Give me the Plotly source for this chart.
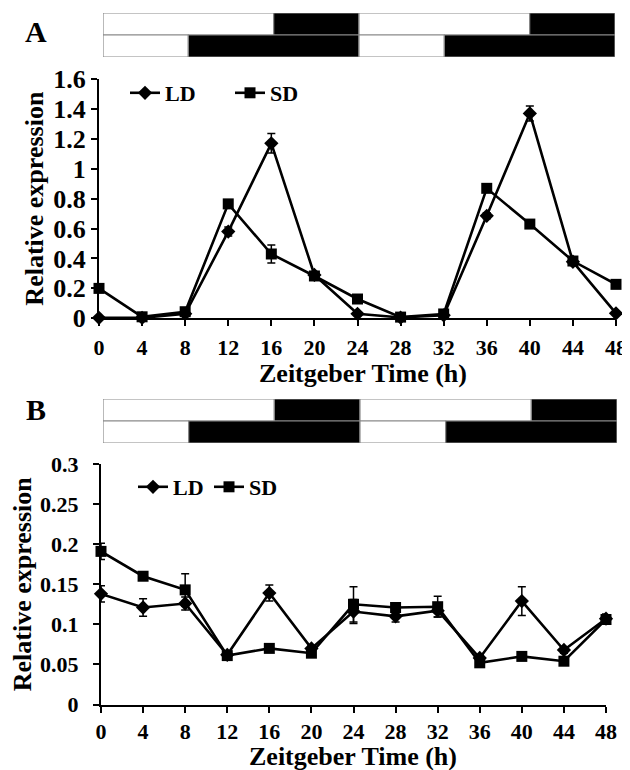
import plotly.graph_objects as go

# ---------------- data ----------------
zt = [0, 4, 8, 12, 16, 20, 24, 28, 32, 36, 40, 44, 48]
x_ticks = [0, 4, 8, 12, 16, 20, 24, 28, 32, 36, 40, 44, 48]

# Panel A
a_ld = [0.003, 0.003, 0.03, 0.58, 1.17, 0.29, 0.03, 0.005, 0.02, 0.685, 1.37, 0.378, 0.033]
a_ld_err = [0.005, 0.003, 0.01, 0.03, 0.065, 0.01, 0.005, 0.003, 0.005, 0.02, 0.05, 0.02, 0.005]
a_sd = [0.2, 0.01, 0.044, 0.765, 0.43, 0.283, 0.129, 0.008, 0.029, 0.869, 0.63, 0.383, 0.227]
a_sd_err = [0.02, 0.005, 0.01, 0.02, 0.06, 0.01, 0.01, 0.005, 0.005, 0.02, 0.02, 0.02, 0.01]
a_y_ticks = [0, 0.2, 0.4, 0.6, 0.8, 1.0, 1.2, 1.4, 1.6]
a_y_labels = ["0", "0.2", "0.4", "0.6", "0.8", "1", "1.2", "1.4", "1.6"]

# Panel B
b_ld = [0.138, 0.121, 0.126, 0.062, 0.139, 0.07, 0.116, 0.11, 0.117, 0.058, 0.129, 0.068, 0.107]
b_ld_err = [0.01, 0.011, 0.008, 0.003, 0.01, 0.003, 0.015, 0.007, 0.008, 0.004, 0.018, 0.004, 0.006]
b_sd = [0.191, 0.16, 0.143, 0.061, 0.07, 0.064, 0.125, 0.121, 0.122, 0.052, 0.06, 0.054, 0.106]
b_sd_err = [0.01, 0.004, 0.02, 0.003, 0.004, 0.003, 0.022, 0.005, 0.013, 0.003, 0.003, 0.003, 0.004]
b_y_ticks = [0, 0.05, 0.1, 0.15, 0.2, 0.25, 0.3]
b_y_labels = ["0", "0.05", "0.1", "0.15", "0.2", "0.25", "0.3"]

# Photoperiods (hours of light per 24 h day)
ld_light = 16
sd_light = 8
days = [0, 24]

# page body has an 8px margin: figure is sized so it fits the 630x770 window
OFF = 8
W, H = 630 - OFF, 770 - OFF
FONT = "Liberation Serif, Times New Roman, serif"


def px(x):
    return (x - OFF) / W


def py(y):
    return 1 - (y - OFF) / H


fig = go.Figure()

# -------- light/dark regime bars --------
def add_regime(xa, ya):
    for row, light in [(1, ld_light), (0, sd_light)]:
        for d in days:
            for start, length, col in [(d, light, "white"), (d + light, 24 - light, "black")]:
                fig.add_trace(go.Bar(
                    orientation="h", y=[row], x=[length], base=[start], width=1,
                    marker=dict(color=col, line=dict(color="#8a8a8a", width=1.2)),
                    xaxis=xa, yaxis=ya, showlegend=False, hoverinfo="skip"))


add_regime("x3", "y3")
add_regime("x4", "y4")

# -------- expression series --------
def add_series(xa, ya, ld, ld_err, sd, sd_err, legend):
    fig.add_trace(go.Scatter(
        x=zt, y=ld, name="LD", mode="lines+markers", xaxis=xa, yaxis=ya,
        line=dict(color="black", width=2.6),
        marker=dict(symbol="diamond", size=11, color="black"),
        error_y=dict(type="data", array=ld_err, color="black", thickness=1.5, width=4),
        legend=legend, cliponaxis=False))
    fig.add_trace(go.Scatter(
        x=zt, y=sd, name="SD", mode="lines+markers", xaxis=xa, yaxis=ya,
        line=dict(color="black", width=2.6),
        marker=dict(symbol="square", size=11, color="black"),
        error_y=dict(type="data", array=sd_err, color="black", thickness=1.5, width=4),
        legend=legend, cliponaxis=False))


add_series("x", "y", a_ld, a_ld_err, a_sd, a_sd_err, "legend")
add_series("x2", "y2", b_ld, b_ld_err, b_sd, b_sd_err, "legend2")

xcommon = dict(range=[0, 48], tickmode="array", tickvals=x_ticks, automargin=False,
               showline=True, linecolor="black", linewidth=2, ticks="outside",
               ticklen=6, tickwidth=2, tickcolor="black", showgrid=False,
               zeroline=False)
ycommon = dict(showline=True, linecolor="black", linewidth=2, ticks="outside",
               ticklen=6, tickwidth=2, tickcolor="black", showgrid=False,
               zeroline=False, tickmode="array", automargin=False)

fig.update_layout(
    template="none",
    width=W, height=H, margin=dict(l=0, r=0, t=0, b=0, pad=0, autoexpand=False),
    paper_bgcolor="white", plot_bgcolor="white", barmode="overlay",
    font=dict(family=FONT, color="black", weight="bold"),
    xaxis=dict(domain=[px(99), px(616)], anchor="y", ticklabelstandoff=2,
               tickfont=dict(size=22, family=FONT, weight="bold"), **xcommon),
    yaxis=dict(domain=[py(318.3), py(79)], anchor="x", range=[0, 1.6],
               tickvals=a_y_ticks, ticktext=a_y_labels,
               tickfont=dict(size=26, family=FONT, weight="bold"),
               ticklabelstandoff=0,
               title=dict(text="Relative expression", standoff=2,
                          font=dict(size=26, family=FONT, weight="bold")),
               **ycommon),
    xaxis2=dict(domain=[px(101), px(606)], anchor="y2", ticklabelstandoff=0,
                tickfont=dict(size=22, family=FONT, weight="bold"), **xcommon),
    yaxis2=dict(domain=[py(704.5), py(464)], anchor="x2", range=[0, 0.3],
                tickvals=b_y_ticks, ticktext=b_y_labels,
                tickfont=dict(size=22, family=FONT, weight="bold"),
                ticklabelstandoff=10,
                title=dict(text="Relative expression", standoff=2,
                           font=dict(size=26, family=FONT, weight="bold")),
                **ycommon),
    xaxis3=dict(domain=[px(103), px(615)], anchor="y3", range=[0, 48], visible=False),
    yaxis3=dict(domain=[py(57), py(13)], anchor="x3", range=[-0.5, 1.5], visible=False),
    xaxis4=dict(domain=[px(103), px(617)], anchor="y4", range=[0, 48], visible=False),
    yaxis4=dict(domain=[py(443), py(399)], anchor="x4", range=[-0.5, 1.5], visible=False),
    legend=dict(orientation="h", x=px(125), y=py(93), xanchor="left", yanchor="middle",
                font=dict(size=22, family=FONT, weight="bold"), bgcolor="rgba(0,0,0,0)",
                entrywidth=60, entrywidthmode="pixels", itemclick=False),
    legend2=dict(orientation="h", x=px(133), y=py(487), xanchor="left", yanchor="middle",
                 font=dict(size=22, family=FONT, weight="bold"), bgcolor="rgba(0,0,0,0)",
                 entrywidth=31, entrywidthmode="pixels", itemclick=False),
    annotations=[
        dict(text="A", x=px(36), y=py(32), xref="paper", yref="paper", showarrow=False,
             xanchor="center", yanchor="middle",
             font=dict(size=30, family=FONT, weight="bold")),
        dict(text="B", x=px(36), y=py(410), xref="paper", yref="paper", showarrow=False,
             xanchor="center", yanchor="middle",
             font=dict(size=30, family=FONT, weight="bold")),
        dict(text="Zeitgeber Time (h)", x=px(363), y=py(373), xref="paper", yref="paper",
             showarrow=False, xanchor="center", yanchor="middle",
             font=dict(size=26, family=FONT, weight="bold")),
        dict(text="Zeitgeber Time (h)", x=px(353), y=py(756), xref="paper", yref="paper",
             showarrow=False, xanchor="center", yanchor="middle",
             font=dict(size=26, family=FONT, weight="bold")),
    ],
)

fig.write_html("out.html")
